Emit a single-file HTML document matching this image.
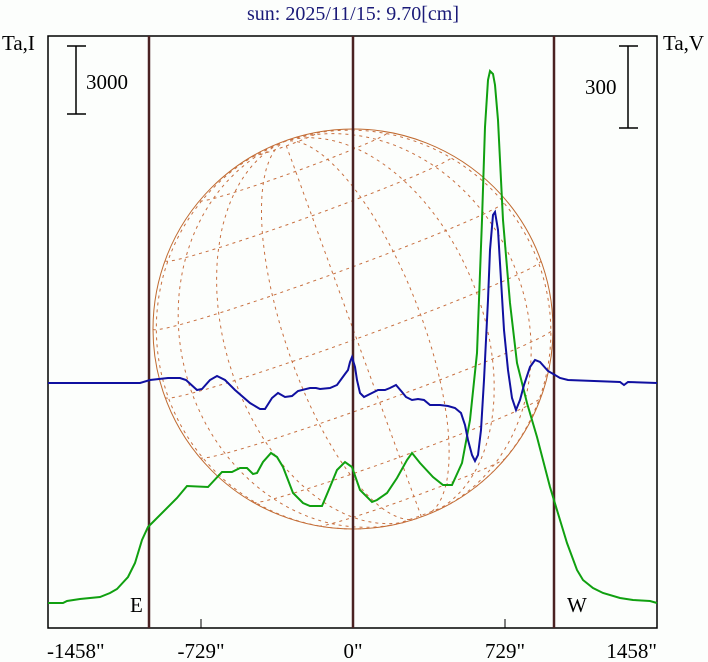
<!DOCTYPE html>
<html><head><style>
html,body{margin:0;padding:0;background:#fcfefc;}
svg{display:block;}
text{font-family:"Liberation Serif",serif;font-size:21px;fill:#000;}
</style></head><body>
<svg id="s" width="708" height="662" viewBox="0 0 708 662" xmlns="http://www.w3.org/2000/svg">
<rect width="708" height="662" fill="#fcfefc"/>
<text x="353" y="20" text-anchor="middle" style="fill:#1a1a78;font-size:20px">sun: 2025/11/15: 9.70[cm]</text>
<text x="2" y="50">Ta,I</text>
<text x="663" y="50">Ta,V</text>
<circle cx="353" cy="329" r="200" fill="none" stroke="#c06a30" stroke-width="1"/>
<g id="grid" fill="none" stroke="#c87040" stroke-width="1" stroke-dasharray="3,4"></g>
<rect x="48" y="36" width="609" height="592" fill="none" stroke="#000" stroke-width="1.5"/>
<line x1="201" y1="619" x2="201" y2="628" stroke="#000"/>
<line x1="505" y1="619" x2="505" y2="628" stroke="#000"/>
<g stroke="#4a2222" stroke-width="2.5">
<line x1="149" y1="36" x2="149" y2="628"/>
<line x1="353" y1="36" x2="353" y2="628"/>
<line x1="554" y1="36" x2="554" y2="628"/>
</g>
<g stroke="#000" stroke-width="1.5">
<line x1="76" y1="46" x2="76" y2="114"/><line x1="67" y1="46" x2="86" y2="46"/><line x1="67" y1="114" x2="86" y2="114"/>
<line x1="628" y1="46" x2="628" y2="128"/><line x1="619" y1="46" x2="638" y2="46"/><line x1="619" y1="128" x2="638" y2="128"/>
</g>
<text x="86" y="89">3000</text>
<text x="585" y="94">300</text>
<text x="130" y="612">E</text>
<text x="567" y="612">W</text>
<text x="47" y="658">-1458"</text>
<text x="201" y="658" text-anchor="middle">-729"</text>
<text x="353" y="658" text-anchor="middle">0"</text>
<text x="505" y="658" text-anchor="middle">729"</text>
<text x="657" y="658" text-anchor="end">1458"</text>
<polyline fill="none" stroke="#10a010" stroke-width="2" points="48,603 63,603 67,601 80,599 100,597 110,593 117,589 128,577 135,563 142,540 148,527 177,498 187,486 208,487 222,472 232,472 240,468 247,468 253,474 257,473 263,462 271,453 277,457 283,467 293,493 303,503 310,506 322,506 330,487 337,470 345,462 352,467 360,490 372,502 377,500 387,493 397,478 407,460 412,453 420,463 433,477 443,485 452,485 462,463 470,420 477,353 482,220 485,127 488,80 490,71 493,74 495,85 498,120 503,220 510,303 517,363 527,403 537,437 550,487 560,520 567,543 577,570 583,580 593,588 603,593 620,598 633,600 650,601 657,603"/>
<polyline fill="none" stroke="#1010a0" stroke-width="2" points="48,383 140,383 150,380 168,378 180,378 186,380 197,390 202,389 210,380 217,376 225,380 235,390 250,403 260,409 265,409 272,398 278,393 285,397 292,396 298,391 310,388 316,388 320,389 330,388 337,385 345,374 348,370 350,362 352,357 355,367 357,380 360,393 364,397 370,394 378,390 385,390 390,388 396,385 402,392 406,397 412,400 418,399 424,400 430,405 440,405 448,406 455,408 461,413 465,425 468,440 472,455 475,461 478,455 481,430 484,380 488,300 490,250 493,215 495,212 498,230 501,280 504,330 508,370 512,398 516,410 520,400 524,385 530,367 535,360 540,362 548,371 555,375 560,378 568,380 620,382 624,385 628,382 657,383"/>
</svg>
<script>
(function(){
var g=document.getElementById('grid'),cx=353,cy=329,r=200,P=20*Math.PI/180,B=3*Math.PI/180,d=Math.PI/180;
function pr(la,lo){var x=Math.cos(la)*Math.sin(lo),y=Math.sin(la)*Math.cos(B)-Math.cos(la)*Math.cos(lo)*Math.sin(B),z=Math.sin(la)*Math.sin(B)+Math.cos(la)*Math.cos(lo)*Math.cos(B);
return [cx+r*(x*Math.cos(P)-y*Math.sin(P)),cy-r*(x*Math.sin(P)+y*Math.cos(P)),z];}
function add(pts){var s='',pen=false;pts.forEach(function(p){if(p[2]>0){s+=(pen?'L':'M')+p[0].toFixed(1)+' '+p[1].toFixed(1);pen=true;}else pen=false;});
if(s){var e=document.createElementNS('http://www.w3.org/2000/svg','path');e.setAttribute('d',s);g.appendChild(e);}}
for(var la=-80;la<=80;la+=20){var a=[];for(var lo=-90;lo<=90;lo+=2)a.push(pr(la*d,lo*d));add(a);}
for(var lo=-80;lo<=80;lo+=20){var a=[];for(var la=-90;la<=90;la+=2)a.push(pr(la*d,lo*d));add(a);}
})();
</script>
</body></html>
